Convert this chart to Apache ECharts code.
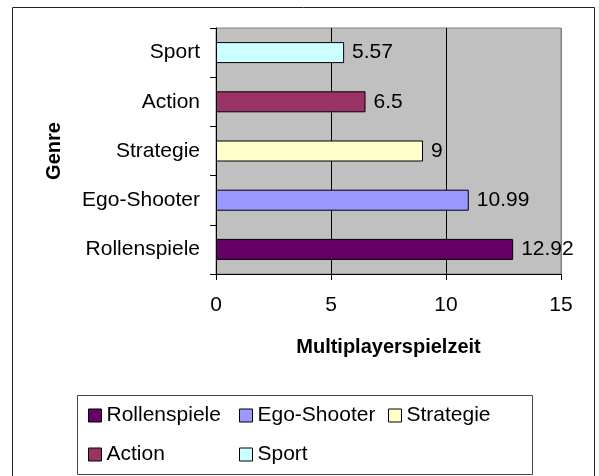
<!DOCTYPE html>
<html>
<head>
<meta charset="utf-8">
<script src="https://cdn.jsdelivr.net/npm/echarts@6/dist/echarts.min.js"></script>
<style>
  html, body { margin: 0; padding: 0; background: #fff; }
  #chart { width: 599px; height: 476px; }
</style>
</head>
<body>
<div id="chart"></div>
<script>
// Daten
var genres = ['Rollenspiele', 'Ego-Shooter', 'Strategie', 'Action', 'Sport'];
var spielzeit = [12.92, 10.99, 9, 6.5, 5.57];
var xTicks = [0, 5, 10, 15];

// Farben je Genre
var farben = ['#660066', '#9999FF', '#FFFFCC', '#993366', '#CCFFFF'];

var FONT = 'Liberation Sans, Arial, sans-serif';

var chart = echarts.init(document.getElementById('chart'));

// jede Kategorie als eigene Serie, gestapelt -> Balken bleiben mittig
var series = genres.map(function (g, i) {
    return {
        name: g,
        type: 'bar',
        stack: 'gesamt',
        barWidth: 21,
        data: genres.map(function (x, j) { return j === i ? spielzeit[i] : '-'; }),
        itemStyle: { color: farben[i], borderColor: '#000', borderWidth: 1 },
        label: {
            show: true,
            position: 'right',
            distance: 8,
            color: '#000',
            fontFamily: FONT,
            fontSize: 21
        }
    };
});

var legendBase = {
    orient: 'vertical',
    top: 400,
    itemWidth: 13,
    itemHeight: 13,
    itemGap: 18,
    icon: 'rect',
    itemStyle: { borderColor: '#000', borderWidth: 1 },
    textStyle: { fontFamily: FONT, fontSize: 21, color: '#000', lineHeight: 21 },
    selectedMode: false
};

var option = {
    animation: false,
    backgroundColor: '#fff',
    grid: {
        left: 216, right: 38, top: 28, bottom: 202,
        show: true,
        backgroundColor: '#C0C0C0',
        borderColor: '#808080',
        borderWidth: 1
    },
    legend: [
        Object.assign({}, legendBase, { left: 83, data: [genres[0], genres[3]] }),
        Object.assign({}, legendBase, { left: 234, data: [genres[1], genres[4]] }),
        Object.assign({}, legendBase, { left: 383, data: [genres[2]] })
    ],
    xAxis: {
        type: 'value',
        min: xTicks[0],
        max: xTicks[xTicks.length - 1],
        interval: 5,
        name: 'Multiplayerspielzeit',
        nameLocation: 'middle',
        nameGap: 63,
        nameTextStyle: { fontFamily: FONT, fontSize: 20, fontWeight: 'bold', color: '#000' },
        axisLine: { show: true, lineStyle: { color: '#000', width: 1 } },
        axisTick: { show: true, length: 6, lineStyle: { color: '#000' } },
        axisLabel: { fontFamily: FONT, fontSize: 21, color: '#000', margin: 21 },
        splitLine: { show: true, lineStyle: { color: ['#000', '#000', '#000', '#808080'], width: 1 } }
    },
    yAxis: {
        type: 'category',
        data: genres,
        name: 'Genre',
        nameLocation: 'middle',
        nameGap: 152,
        nameRotate: 90,
        nameTextStyle: { fontFamily: FONT, fontSize: 20, fontWeight: 'bold', color: '#000' },
        axisLine: { show: true, lineStyle: { color: '#000', width: 1 } },
        axisTick: { show: true, length: 6, lineStyle: { color: '#000' } },
        axisLabel: { fontFamily: FONT, fontSize: 21, color: '#000', margin: 16 },
        splitLine: { show: false }
    },
    graphic: [
        {
            type: 'rect',
            shape: { x: 12.5, y: 7.5, width: 582, height: 480 },
            style: { fill: 'none', stroke: '#222', lineWidth: 1 },
            silent: true
        },
        {
            type: 'rect',
            shape: { x: 77.5, y: 395.5, width: 455, height: 79 },
            style: { fill: 'none', stroke: '#444', lineWidth: 1 },
            silent: true,
            z: -1
        }
    ],
    series: series
};

chart.setOption(option);
</script>
</body>
</html>
